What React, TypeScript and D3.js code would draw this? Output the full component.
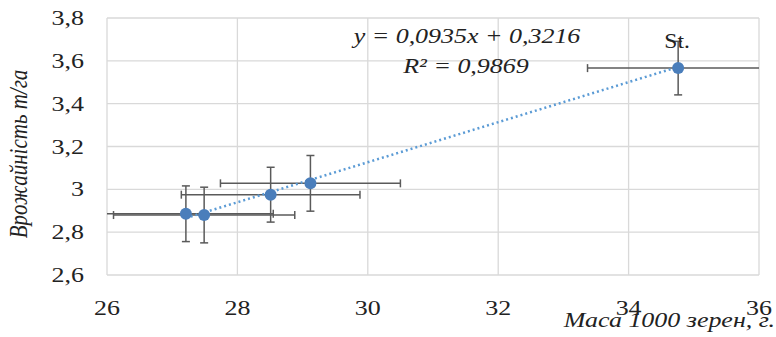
import * as d3 from "d3"

const massX = [27.21, 27.49, 28.51, 29.12, 34.76]
const yieldY = [2.886, 2.88, 2.975, 3.028, 3.566]
const errX = [1.34, 1.39, 1.37, 1.38, 1.39]
const errY = [0.13, 0.13, 0.128, 0.13, 0.125]
const pointLabels = ["", "", "", "", "St."]
const xTicks = [26, 28, 30, 32, 34, 36]
const yTicks = [2.6, 2.8, 3.0, 3.2, 3.4, 3.6, 3.8]
const slope = 0.0935
const intercept = 0.3216
const equationText = "y = 0,0935x + 0,3216"
const r2Text = "R² = 0,9869"

const W = 776
const H = 337
const M = { left: 107, right: 17, top: 18, bottom: 62 }
const SX = 1.18 // the source picture is stretched sideways

const fmt = (v: number) => (Number.isInteger(v) ? String(v) : v.toFixed(1).replace(".", ","))
const serif = { fontFamily: '"Liberation Serif"' }

function T(props: { x: number; y: number; anchor?: string; size?: number; italic?: boolean; children: any }) {
  const { x, y, anchor = "start", size = 22, italic = false, children } = props
  return (
    <text
      transform={`translate(${x},${y}) scale(${SX},1)`}
      textAnchor={anchor}
      fontSize={size}
      fontStyle={italic ? "italic" : "normal"}
      fill="#222"
      style={serif}
    >
      {children}
    </text>
  )
}

export default function App() {
  const x = d3.scaleLinear().domain([26, 36]).range([M.left, W - M.right])
  const y = d3.scaleLinear().domain([2.6, 3.8]).range([H - M.bottom, M.top])
  const x0 = d3.min(massX)!
  const x1 = d3.max(massX)!
  const line = d3
    .line<number>()
    .x((d) => x(d))
    .y((d) => y(slope * d + intercept))
  const cap = 4

  return (
    <svg width={W} height={H} style={{ position: "absolute", left: 0, top: 0, background: "#fff" }}>
      <defs>
        <clipPath id="plot">
          <rect x={x(26)} y={y(3.8)} width={x(36) - x(26)} height={y(2.6) - y(3.8)} />
        </clipPath>
      </defs>
      {xTicks.map((t) => (
        <line key={"gx" + t} x1={x(t)} x2={x(t)} y1={y(2.6)} y2={y(3.8)} stroke="#d9d9d9" strokeWidth={1.3} />
      ))}
      {yTicks.map((t) => (
        <line key={"gy" + t} x1={x(26)} x2={x(36)} y1={y(t)} y2={y(t)} stroke="#d9d9d9" strokeWidth={1.3} />
      ))}
      {yTicks.map((t) => (
        <T key={"ty" + t} x={84} y={y(t) + 7} anchor="end">
          {fmt(t)}
        </T>
      ))}
      {xTicks.map((t) => (
        <T key={"tx" + t} x={x(t)} y={315} anchor="middle">
          {t}
        </T>
      ))}
      <g clipPath="url(#plot)" stroke="#5a5a5a" strokeWidth={1.5}>
        {massX.map((mx, i) => {
          const cx = x(mx)
          const cy = y(yieldY[i])
          const xl = x(mx - errX[i])
          const xr = x(mx + errX[i])
          const yt = y(yieldY[i] + errY[i])
          const yb = y(yieldY[i] - errY[i])
          return (
            <g key={"e" + i}>
              <line x1={xl} x2={xr} y1={cy} y2={cy} />
              <line x1={xl} x2={xl} y1={cy - cap} y2={cy + cap} />
              <line x1={xr} x2={xr} y1={cy - cap} y2={cy + cap} />
              <line x1={cx} x2={cx} y1={yt} y2={yb} />
              <line x1={cx - cap} x2={cx + cap} y1={yt} y2={yt} />
              <line x1={cx - cap} x2={cx + cap} y1={yb} y2={yb} />
            </g>
          )
        })}
      </g>
      <path
        d={line([x0, x1]) || ""}
        fill="none"
        stroke="#5b9bd5"
        strokeWidth={2.5}
        strokeDasharray="2,3"
      />
      {massX.map((mx, i) => (
        <circle key={"p" + i} cx={x(mx)} cy={y(yieldY[i])} r={6} fill="#4a7ebb" />
      ))}
      {pointLabels.map((l, i) =>
        l ? (
          <T key={"l" + i} x={x(massX[i]) - 1} y={48} anchor="middle" size={20}>
            {l}
          </T>
        ) : null
      )}
      <T x={467} y={43} anchor="middle" italic>
        {equationText}
      </T>
      <T x={466} y={73} anchor="middle" italic>
        {r2Text}
      </T>
      <text
        transform={`translate(27,154) rotate(-90) scale(1,${SX})`}
        textAnchor="middle"
        fontSize={21}
        fontStyle="italic"
        fill="#222"
        style={serif}
      >
        Врожайність т/га
      </text>
      <T x={775} y={327} anchor="end" italic>
        Маса 1000 зерен, г.
      </T>
    </svg>
  )
}
